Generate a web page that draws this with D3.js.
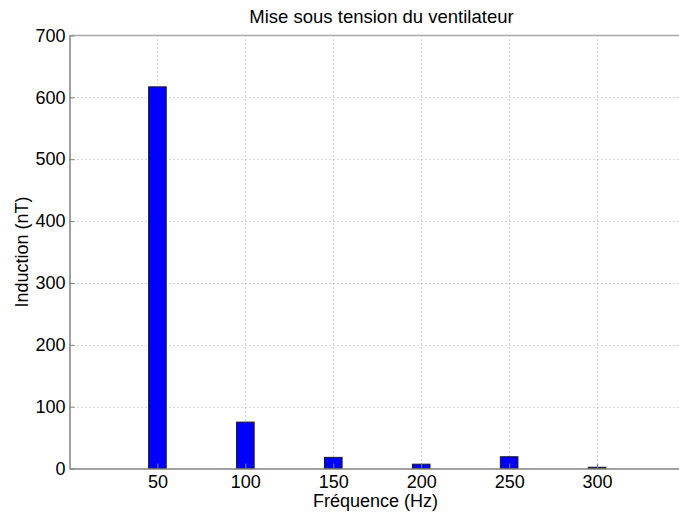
<!DOCTYPE html>
<html>
<head>
<meta charset="utf-8">
<script src="https://cdn.jsdelivr.net/npm/d3@7"></script>
<style>
  html, body { margin: 0; padding: 0; background: #fff; }
  svg { display: block; }
  text { font-family: "Liberation Sans", Arial, Helvetica, sans-serif; fill: #000; }
</style>
</head>
<body>
<svg id="chart" width="679" height="513"></svg>
<script>
// Spectre d'induction à la mise sous tension du ventilateur
const frequencies = [50, 100, 150, 200, 250, 300];   // Hz
const induction   = [617, 75, 18, 7, 19, 2];          // nT
const xTicks = [50, 100, 150, 200, 250, 300];
const yTicks = [0, 100, 200, 300, 400, 500, 600, 700];

const svg = d3.select("#chart");
const plotLeft = 69.5, plotTop = 35.5, plotBottom = 468.5, plotRight = 685;

const x = d3.scaleLinear().domain([0, 350]).range([plotLeft, plotRight]);
const y = d3.scaleLinear().domain([0, 700]).range([plotBottom, plotTop]);
const barW = x(10) - x(0);

// grille pointillée
const grid = svg.append("g");
grid.selectAll("line.gx").data(xTicks).join("line")
  .attr("x1", d => Math.round(x(d)) + 0.5).attr("x2", d => Math.round(x(d)) + 0.5)
  .attr("y1", plotTop).attr("y2", plotBottom)
  .attr("stroke", "#b0b0b0").attr("stroke-width", 1).attr("stroke-dasharray", "1,3");
grid.selectAll("line.gy").data(yTicks.slice(1, -1)).join("line")
  .attr("x1", plotLeft).attr("x2", plotRight)
  .attr("y1", d => Math.round(y(d)) + 0.5).attr("y2", d => Math.round(y(d)) + 0.5)
  .attr("stroke", "#b0b0b0").attr("stroke-width", 1).attr("stroke-dasharray", "1,3");

// barres
svg.append("g").selectAll("rect").data(frequencies).join("rect")
  .attr("x", (d) => x(d) - barW / 2)
  .attr("y", (d, i) => y(induction[i]))
  .attr("width", barW)
  .attr("height", (d, i) => y(0) - y(induction[i]))
  .attr("fill", "#0000ff").attr("stroke", "#1a1a1a").attr("stroke-width", 1);

// cadre du haut
svg.append("line").attr("x1", plotLeft).attr("x2", plotRight).attr("y1", plotTop).attr("y2", plotTop)
  .attr("stroke", "#aaaaaa").attr("stroke-width", 1.5);

// axes
const xAxis = d3.axisBottom(x).tickValues(xTicks).tickSize(-5).tickPadding(7).tickSizeOuter(0);
const gx = svg.append("g").attr("transform", `translate(0,${plotBottom})`).call(xAxis);
gx.select(".domain").attr("stroke", "#808080").attr("stroke-width", 1.5);
gx.selectAll(".tick line").attr("stroke", "#808080");
gx.selectAll(".tick text").attr("font-size", 18).attr("font-family", "Liberation Sans, Arial, sans-serif");

const yAxis = d3.axisLeft(y).tickValues(yTicks).tickSize(-5).tickPadding(4).tickSizeOuter(0);
const gy = svg.append("g").attr("transform", `translate(${plotLeft},0)`).call(yAxis);
gy.select(".domain").attr("stroke", "#808080").attr("stroke-width", 1.5);
gy.selectAll(".tick line").attr("stroke", "#808080");
gy.selectAll(".tick text").attr("font-size", 18).attr("font-family", "Liberation Sans, Arial, sans-serif");

// titres
svg.append("text").attr("x", 381.5).attr("y", 23).attr("text-anchor", "middle")
  .attr("font-size", 18.5).text("Mise sous tension du ventilateur");
svg.append("text").attr("x", 375.5).attr("y", 507).attr("text-anchor", "middle")
  .attr("font-size", 18).text("Fréquence (Hz)");
svg.append("text").attr("transform", "translate(28,252) rotate(-90)").attr("text-anchor", "middle")
  .attr("font-size", 18).text("Induction (nT)");
</script>
</body>
</html>
